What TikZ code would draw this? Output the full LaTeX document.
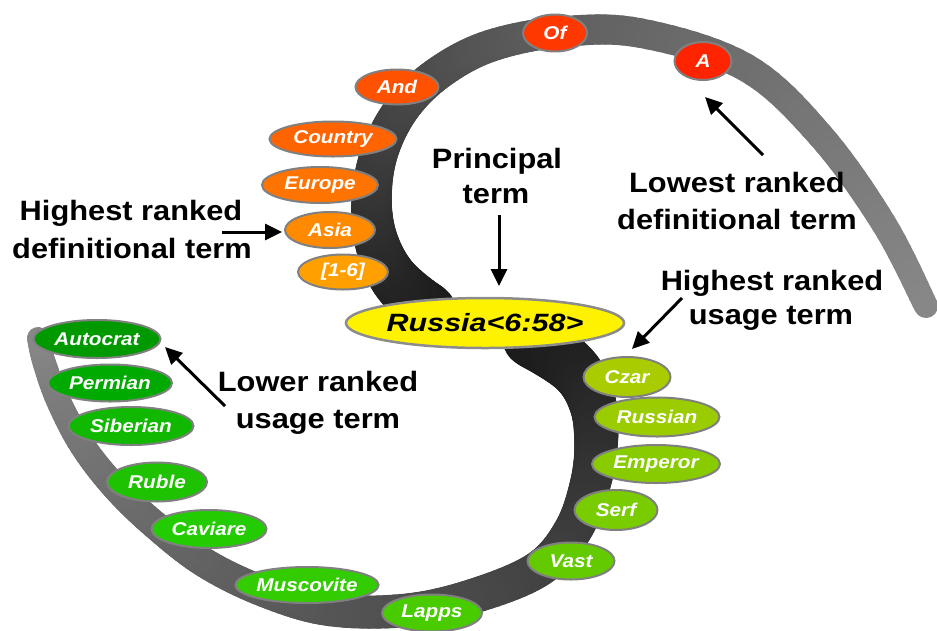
\documentclass[tikz,border=0pt]{standalone}
\usepackage{fontspec}
\setmainfont{Liberation Sans}
\usetikzlibrary{shapes.geometric, arrows.meta}

% term colours: definitional (warm) and usage (green)
\definecolor{cOf}{HTML}{FF3800}
\definecolor{cA}{HTML}{FF2400}
\definecolor{cAnd}{HTML}{FF5200}
\definecolor{cCountry}{HTML}{FF6400}
\definecolor{cEurope}{HTML}{FF7400}
\definecolor{cAsia}{HTML}{FF8A00}
\definecolor{cRange}{HTML}{FFA000}
\definecolor{cCzar}{HTML}{A8CC00}
\definecolor{cRussian}{HTML}{9ACC00}
\definecolor{cEmperor}{HTML}{88CC00}
\definecolor{cSerf}{HTML}{78CC00}
\definecolor{cVast}{HTML}{64CA00}
\definecolor{cLapps}{HTML}{48CC00}
\definecolor{cMuscovite}{HTML}{33CC00}
\definecolor{cCaviare}{HTML}{22CC00}
\definecolor{cRuble}{HTML}{1EC200}
\definecolor{cSiberian}{HTML}{10B800}
\definecolor{cPermian}{HTML}{00AA00}
\definecolor{cAutocrat}{HTML}{009A00}

\newcommand\wtext[1]{\scalebox{1.12}[1]{#1}}
\newcommand\ctext[1]{\scalebox{1.1}[1]{#1}}

% spine points of the two arms
\def\upX{{428,393,375,372,381,404,440,490,560,640,745,820,884,926}}
\def\upY{{312,277,236,192,148,106,72,46,32,33,67,135,224,306}}
\def\loX{{532,575,593,596,590,573,540,480,410,330,265,205,155,115,82,58,44,38}}
\def\loY{{338,370,405,445,485,530,568,594,610,610,592,563,525,487,445,400,362,338}}

% a tapering, fading arm along a Catmull-Rom spine:
% x list, y list, last index, end width, taper
\newcommand\spiralarm[5]{%
  \pgfmathtruncatemacro\armlast{#3-1}%
  \foreach \i in {0,...,\armlast}{%
    \pgfmathtruncatemacro\ia{max(\i-1,0)}%
    \pgfmathtruncatemacro\ib{\i+1}%
    \pgfmathtruncatemacro\ic{min(\i+2,#3)}%
    \pgfmathsetmacro\xa{#1[\ia]}\pgfmathsetmacro\ya{#2[\ia]}%
    \pgfmathsetmacro\xb{#1[\i]}\pgfmathsetmacro\yb{#2[\i]}%
    \pgfmathsetmacro\xc{#1[\ib]}\pgfmathsetmacro\yc{#2[\ib]}%
    \pgfmathsetmacro\xd{#1[\ic]}\pgfmathsetmacro\yd{#2[\ic]}%
    \foreach \s in {1,...,10}{%
      \pgfmathsetmacro\tq{\s/10}%
      \pgfmathsetmacro\tp{(\s-1)/10}%
      \pgfmathsetmacro\xp{0.5*(2*\xb+(\xc-\xa)*\tp+(2*\xa-5*\xb+4*\xc-\xd)*\tp*\tp+(3*\xb-\xa-3*\xc+\xd)*\tp*\tp*\tp)}%
      \pgfmathsetmacro\yp{0.5*(2*\yb+(\yc-\ya)*\tp+(2*\ya-5*\yb+4*\yc-\yd)*\tp*\tp+(3*\yb-\ya-3*\yc+\yd)*\tp*\tp*\tp)}%
      \pgfmathsetmacro\xq{0.5*(2*\xb+(\xc-\xa)*\tq+(2*\xa-5*\xb+4*\xc-\xd)*\tq*\tq+(3*\xb-\xa-3*\xc+\xd)*\tq*\tq*\tq)}%
      \pgfmathsetmacro\yq{0.5*(2*\yb+(\yc-\ya)*\tq+(2*\ya-5*\yb+4*\yc-\yd)*\tq*\tq+(3*\yb-\ya-3*\yc+\yd)*\tq*\tq*\tq)}%
      \pgfmathsetmacro\armg{1-(\i+\tq)/#3}%
      \pgfmathsetmacro\armh{\armg*\armg*\armg*\armg}%
      \pgfmathsetmacro\armw{#4+#5*\armg+16*\armh*\armh}%
      \pgfmathsetmacro\armk{47+43*\armg}%
      \draw[line width=\armw pt, black!\armk, line cap=round] (\xp,\yp) -- (\xq,\yq);
    }%
  }%
}

\tikzset{
  term/.style={ellipse, draw=black!50, line width=2pt, inner sep=0pt, text=white,
    font=\fontsize{18.5}{20}\selectfont\bfseries\itshape},
  sz/.style 2 args={minimum width=#1pt, minimum height=#2pt},
  hub/.style={ellipse, draw=black!45, line width=2.5pt, fill=yellow, inner sep=0pt,
    minimum width=265pt, minimum height=50pt, font=\fontsize{25}{28}\selectfont\bfseries\itshape},
  caption/.style={anchor=base, inner sep=0pt, font=\fontsize{28}{34}\selectfont\bfseries},
  pointer/.style={line width=3pt, -{Triangle[length=17pt,width=16pt]}},
}

\begin{document}
\begin{tikzpicture}[x=1pt, y=-1pt]
\useasboundingbox (0,0) rectangle (937,630);

% definitional arm (upper) and usage arm (lower)
\spiralarm{\upX}{\upY}{13}{24}{18}
\spiralarm{\loX}{\loY}{17}{22}{22}

% definitional terms
\node[term, fill=cOf, sz={64}{37}] (of) at (555,33) {\wtext{Of}};
\node[term, fill=cA, sz={57}{38}] (a) at (703,61) {\wtext{A}};
\node[term, fill=cAnd, sz={83}{35}] (and) at (397,87) {\wtext{And}};
\node[term, fill=cCountry, sz={127}{35}] (country) at (333,139) {\wtext{Country}};
\node[term, fill=cEurope, sz={116}{36}] (europe) at (320,185) {\wtext{Europe}};
\node[term, fill=cAsia, sz={90}{36}] (asia) at (330,230) {\wtext{Asia}};
\node[term, fill=cRange, sz={90}{35}] (range) at (343,272) {\wtext{[1-6]}};

% usage terms
\node[term, fill=cCzar, sz={87}{40}] (czar) at (627,377) {\wtext{Czar}};
\node[term, fill=cRussian, sz={125}{39}] (russian) at (657,417) {\wtext{Russian}};
\node[term, fill=cEmperor, sz={128}{38}] (emperor) at (656,464) {\wtext{Emperor}};
\node[term, fill=cSerf, sz={83}{40}] (serf) at (616,510) {\wtext{Serf}};
\node[term, fill=cVast, sz={87}{37}] (vast) at (571,561) {\wtext{Vast}};
\node[term, fill=cLapps, sz={100}{37}] (lapps) at (432,613) {\wtext{Lapps}};
\node[term, fill=cMuscovite, sz={140}{36}] (muscovite) at (307,585) {\wtext{Muscovite}};
\node[term, fill=cCaviare, sz={115}{38}] (caviare) at (209,529) {\wtext{Caviare}};
\node[term, fill=cRuble, sz={100}{39}] (ruble) at (157,482) {\wtext{Ruble}};
\node[term, fill=cSiberian, sz={125}{38}] (siberian) at (131,426) {\wtext{Siberian}};
\node[term, fill=cPermian, sz={124}{37}] (permian) at (110,383) {\wtext{Permian}};
\node[term, fill=cAutocrat, sz={127}{38}] (autocrat) at (97,339) {\wtext{Autocrat}};

% principal term
\node[hub] (russia) at (485,323) {\scalebox{1.22}[1]{Russia<6:58>}};

% captions
\node[caption] (hd1) at (131,220) {\ctext{Highest ranked}};
\node[caption] (hd2) at (132,258) {\ctext{definitional term}};
\node[caption] (pt1) at (497,168) {\ctext{Principal}};
\node[caption] (pt2) at (496,203) {\ctext{term}};
\node[caption] (ld1) at (737,192) {\ctext{Lowest ranked}};
\node[caption] (ld2) at (737,229) {\ctext{definitional term}};
\node[caption] (hu1) at (772,290) {\ctext{Highest ranked}};
\node[caption] (hu2) at (771,324) {\ctext{usage term}};
\node[caption] (lu1) at (318,391) {\ctext{Lower ranked}};
\node[caption] (lu2) at (318,428) {\ctext{usage term}};

% pointers
\coordinate (hdTail) at (222,232);
\coordinate (ptTail) at (499,215);
\coordinate (ptTip) at (499,286);
\coordinate (ldTail) at (763,155);
\coordinate (ldTip) at (705,97);
\coordinate (huTail) at (682,298);
\coordinate (huTip) at (632,349);
\coordinate (luTail) at (225,406);
\coordinate (luTip) at (165,347);

\draw[pointer, shorten >=2pt] (hdTail) -- (hdTail -| asia.west);
\draw[pointer] (ptTail) -- (ptTip);
\draw[pointer] (ldTail) -- (ldTip);
\draw[pointer] (huTail) -- (huTip);
\draw[pointer] (luTail) -- (luTip);
\end{tikzpicture}
\end{document}
